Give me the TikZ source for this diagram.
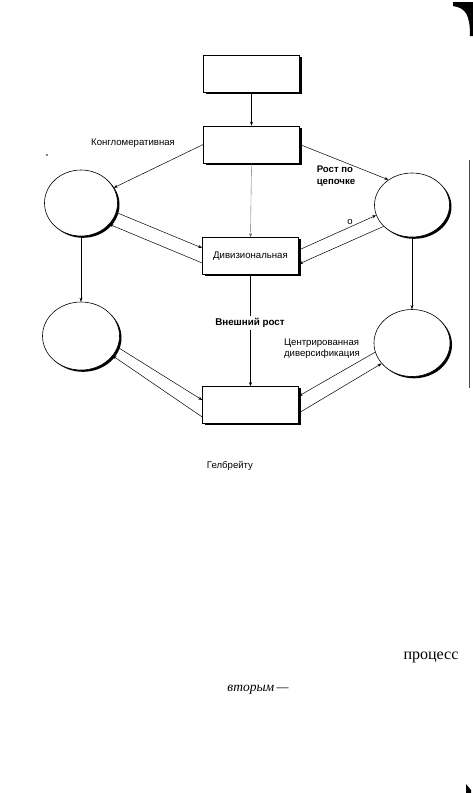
\documentclass[tikz,border=0pt]{standalone}
\usepackage{fontspec}
\setmainfont{Liberation Sans}
\newfontfamily\bookfont{Liberation Serif}
\usetikzlibrary{arrows.meta, positioning, shapes.geometric, shadows}

\begin{document}
\begin{tikzpicture}[
    x=1pt, y=-1pt,
    >={Stealth[length=4pt,width=3pt]},
    line width=0.6pt,
    every node/.style={font=\fontsize{9.6}{11}\selectfont},
    stage/.style={draw, fill=white, minimum width=96pt, minimum height=37pt,
      inner sep=0pt, drop shadow={shadow xshift=2pt, shadow yshift=-1.8pt, fill=black, opacity=1}},
    firm/.style={draw, ellipse, fill=white, inner sep=0pt,
      drop shadow={shadow xshift=2pt, shadow yshift=-1.8pt, fill=black, opacity=1}},
    link/.style={->, line width=0.5pt}
  ]
  \useasboundingbox (0,0) rectangle (473,793);

  % ---- Boxes ----
  \node[stage] (start) at (251.5,74)  {};
  \node[stage] (conc)  at (251.5,144.5) {};
  \node[stage] (div)   at (250.5,256) {Дивизиональная};
  \node[stage] (ext)   at (250.5,405) {};

  % ---- Circles ----
  \node[firm, minimum width=73pt, minimum height=66pt] (lu) at (81,203)  {};
  \node[firm, minimum width=75pt, minimum height=64pt] (ru) at (412,205) {};
  \node[firm, minimum width=77pt, minimum height=68pt] (ll) at (81,336)  {};
  \node[firm, minimum width=76pt, minimum height=67pt] (rl) at (412,343) {};

  % ---- Arrows ----
  \draw[link] (start) -- (conc);
  \draw[link] (conc.west) -- (lu.25);
  \draw[link] (conc.east) -- (ru.133);
  \draw[link, line width=0.35pt, black!60] (conc.south) -- (div.north);
  \draw[link] (lu.-15) -- ([yshift=8pt]div.west);
  \draw[link] ([yshift=-7pt]div.west) -- (lu.-37);
  \draw[link] ([yshift=6pt]div.east) -- (ru.196);
  \draw[link] (ru.217) -- ([yshift=-8pt]div.east);
  \draw[link] (lu) -- (ll);
  \draw[link] (ru) -- (rl);
  \draw[link] (div.south) -- (ext.north);
  \draw[link] (ll.-17) -- ([yshift=5pt]ext.west);
  \draw[link] ([yshift=-12pt]ext.west) -- (ll.-32);
  \draw[link] (rl.194) -- ([yshift=9pt]ext.east);
  \draw[link] ([yshift=-8pt]ext.east) -- (rl.214);

  % ---- Labels ----
  \node (lconglo) at (133,143) {Конгломеративная};
  \node[align=left, font=\fontsize{9.6}{11.5}\selectfont\bfseries] (lchain) at (336,176) {Рост по\\цепочке};
  \node (lo) at (350,222) {о};
  \node[fill=white, inner sep=2pt, font=\fontsize{9.8}{11}\selectfont\bfseries] (lext) at (250,323) {Внешний рост};
  \node[align=left] (lcentr) at (322,349) {Центрированная\\диверсификация};
  \node (lgalb) at (230,466) {Гелбрейту};

  % ---- Page text ----
  \node[font=\bookfont\fontsize{16}{18}\selectfont] (tproc) at (431,657) {процесс};
  \node[font=\bookfont\itshape\fontsize{13.5}{15}\selectfont] (tsec) at (258,690) {вторым\,—};

  % ---- Scan marks ----
  \fill (453,2) -- (473,2) -- (473,36) -- (470,36) .. controls (470,15) and (466,8) .. (453,6) -- cycle;
  \fill (466,784) -- (471,790) -- (471,793) -- (466,793) -- cycle;
  \draw[line width=0.6pt, black!70] (469,160) -- (469,388);
  \fill (47,155) circle (0.9);
\end{tikzpicture}
\end{document}
